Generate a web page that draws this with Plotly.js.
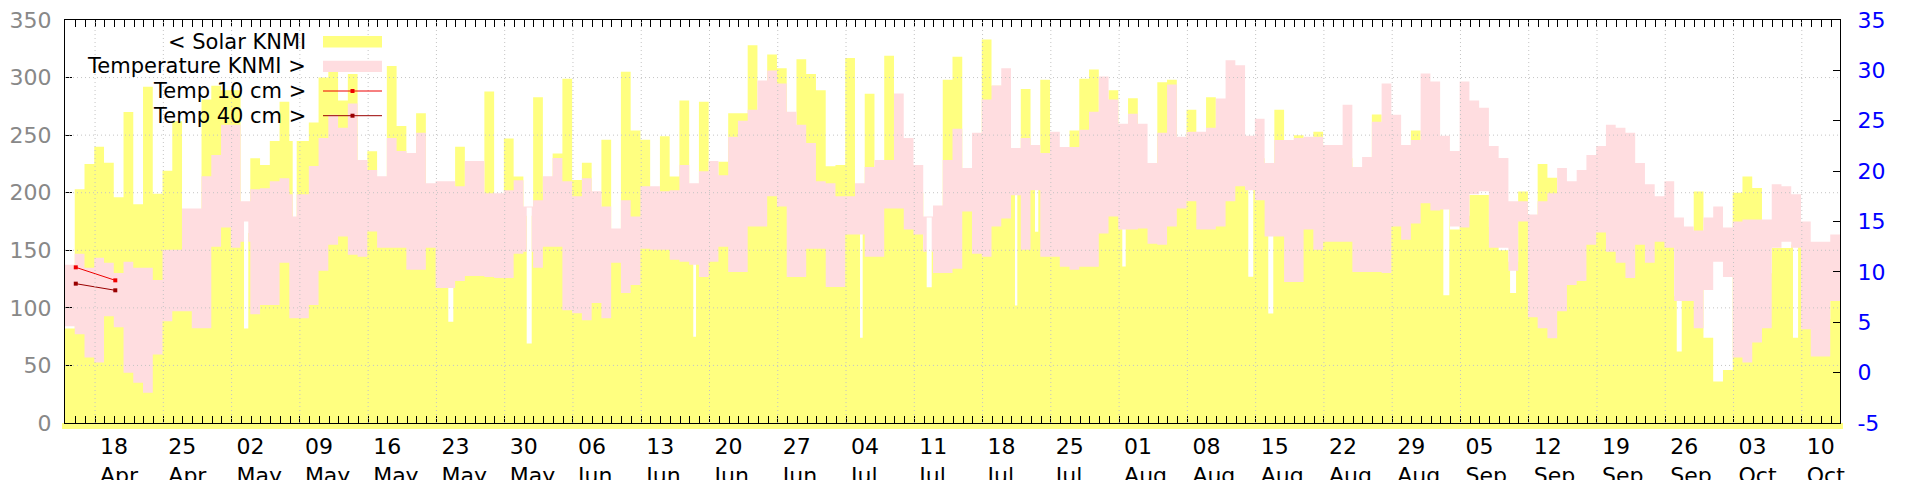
<!DOCTYPE html>
<html><head><meta charset="utf-8">
<script src="https://cdn.plot.ly/plotly-3.0.1.min.js"></script>
<style>html,body{margin:0;padding:0;background:#fff}#chart{width:1920px;height:480px}</style>
</head><body><div id="chart"></div>
<script>
// Daily blocks, each starting 22:00 UTC (local midnight); first block starts 2022-04-14 22:00 UTC
const firstBlock = '2022-04-14T22:00:00Z';
const solar = [
 82,203,225,240,226,196,270,190,292,199,
 219,262,170,165,281,293,289,289,165,230,
 224,245,279,245,245,261,300,306,280,303,
 190,236,170,310,258,180,269,170,160,150,
 240,190,190,288,180,247,214,180,283,200,
 234,299,211,226,170,246,150,305,254,246,
 200,249,214,280,190,279,190,227,269,269,
 328,250,320,308,220,316,303,289,223,224,
 317,200,286,200,319,240,220,200,150,180,
 298,318,220,230,333,293,250,210,290,210,
 298,200,190,254,299,307,220,289,190,282,
 220,200,296,298,230,272,220,283,240,250,
 250,205,230,200,272,200,250,200,253,210,
 210,230,190,200,268,230,220,200,254,240,
 240,200,168,180,198,198,170,150,140,201,
 180,225,213,150,160,160,170,180,180,170,
 160,170,160,158,158,110,110,201,74,36,
 46,200,214,204,130,152,152,155,120,90,
 90,122
];
const tempMax = [
 10.7,11.8,10.4,11.4,10.9,9.9,11.0,10.4,10.4,9.2,
 12.2,12.2,16.3,16.3,19.5,21.6,24.6,24.6,17.0,18.2,
 18.3,19.0,19.3,17.7,17.7,20.5,23.3,25.6,24.3,26.7,
 21.1,20.1,19.5,23.3,22.0,21.8,23.8,18.8,19.0,19.0,
 18.5,21.0,21.0,17.8,17.8,18.1,19.1,16.5,17.1,19.5,
 21.3,19.0,17.5,19.3,18.0,16.5,14.3,17.1,15.5,18.5,
 18.5,18.0,18.1,20.6,18.8,20.0,21.0,19.6,23.4,25.0,
 26.1,29.0,30.0,28.7,25.9,24.6,22.8,19.0,18.8,17.5,
 17.5,18.8,20.4,21.1,21.1,27.7,23.3,20.6,15.5,16.6,
 21.1,24.2,20.3,23.8,27.1,28.5,30.2,22.3,23.3,22.6,
 21.8,23.9,22.4,22.4,24.1,25.9,29.4,27.1,24.7,25.7,
 24.7,20.8,23.8,28.6,23.4,23.9,23.9,24.3,27.2,31.0,
 30.5,23.5,25.2,20.8,23.1,23.1,23.3,23.4,23.4,22.6,
 22.6,26.6,20.4,21.4,24.9,28.7,25.6,22.6,23.1,29.7,
 28.9,23.5,22.0,28.9,27.0,26.3,22.5,21.3,17.0,17.0,
 15.7,17.0,17.8,20.3,19.0,20.1,21.6,22.5,24.6,24.3,
 23.8,20.8,18.7,17.5,19.0,15.4,14.5,14.1,15.4,16.5,
 14.4,15.0,15.2,15.2,15.2,18.7,18.5,17.7,15.0,13.0,
 13.0,13.7
];
const tempMin = [
 4.6,3.8,1.5,1.0,5.6,4.5,0.0,-1.0,-2.0,1.8,
 5.1,6.1,6.1,4.4,4.4,12.5,14.4,12.4,13.0,5.8,
 6.7,6.7,10.9,5.4,5.4,6.7,10.1,12.7,13.5,11.7,
 11.5,14.0,12.4,12.4,12.4,10.2,10.2,12.4,8.4,8.4,
 9.1,9.6,9.6,9.5,9.4,9.4,11.8,12.0,10.4,12.5,
 12.5,6.2,5.9,5.2,6.9,5.4,10.9,7.9,8.7,12.3,
 12.2,12.2,11.2,11.0,10.7,9.5,11.0,12.5,10.0,10.0,
 14.5,14.5,17.5,16.5,9.5,9.5,12.3,12.3,8.5,8.5,
 13.7,13.7,11.5,11.5,16.3,16.3,14.2,13.7,12.0,9.9,
 9.9,10.3,16.0,11.8,11.5,14.5,15.3,17.6,12.2,18.1,
 11.5,11.5,10.5,10.2,10.5,10.5,13.8,15.5,14.2,14.2,
 14.3,12.8,12.7,14.5,16.3,17.0,14.2,14.2,14.5,17.0,
 18.5,18.1,17.1,13.5,13.5,9.0,9.0,14.2,12.2,13.0,
 13.0,13.0,10.0,10.0,10.0,9.9,14.5,13.2,14.8,16.8,
 16.1,16.2,14.5,14.4,17.7,18.0,12.4,12.4,10.1,15.0,
 5.5,4.4,3.4,6.1,8.7,9.1,12.7,13.9,12.0,10.9,
 9.4,12.7,10.9,13.0,12.4,7.1,7.1,4.4,8.2,11.0,
 9.5,1.5,1.0,3.0,4.4,12.4,13.0,12.4,4.3,1.6,
 1.6,7.1
];
// short drop-outs inside a day (UTC times); null = no change for that series
const dipStart = ['2022-05-03 06:30','2022-05-08 06:20','2022-05-24 05:15','2022-06-01 06:10','2022-06-18 08:05',
  '2022-07-05 10:25','2022-07-12 06:30','2022-07-21 07:45','2022-07-23 09:00','2022-08-01 07:50',
  '2022-08-14 05:55','2022-08-16 07:05','2022-09-03 05:55','2022-09-10 02:05','2022-09-27 04:15','2022-10-09 02:20'];
const dipEnd = ['2022-05-03 17:05','2022-05-08 16:10','2022-05-24 17:35','2022-06-01 18:30','2022-06-18 14:50',
  '2022-07-05 17:00','2022-07-12 18:50','2022-07-21 13:30','2022-07-23 17:05','2022-08-01 16:15',
  '2022-08-14 18:10','2022-08-16 19:25','2022-09-03 20:35','2022-09-10 16:50','2022-09-27 16:30','2022-10-09 14:50'];
const dipSolar = [82,150,88,69,75,74,118,102,166,136,127,95,111,113,62,74];
const dipTempMin = [15.0,null,null,16.4,null,null,15.4,null,null,null,null,null,null,null,null,null];
const dipTempMax = [17.0,15.5,null,16.5,null,null,15.5,null,null,null,null,null,null,null,null,null];

const temp10Dates = ['2022-04-16 00:30', '2022-04-20 01:45'];
const temp10 = [10.45, 9.16];
const temp40Dates = ['2022-04-16 00:30', '2022-04-20 01:45'];
const temp40 = [8.83, 8.17];
const legendLabels = ['< Solar KNMI', 'Temperature KNMI >', 'Temp 10 cm >', 'Temp 40 cm >'];
const rightTickVals = [-5, 0, 5, 10, 15, 20, 25, 30, 35];
const rightTickText = ['-5', '0', '5', '10', '15', '20', '25', '30', '35'];
const yellow = '#ffff80', pink = '#ffdde0', red10 = '#ee0000', red40 = '#990000';

const DAY = 86400000;
const t0 = Date.parse(firstBlock);
const toStr = ms => new Date(ms).toISOString().slice(0, 19).replace('T', ' ');
const parseUTC = s => Date.parse(s.replace(' ', 'T') + ':00Z');

// all three series share the same time points: block starts plus drop-out edges
function allTimes() {
  const s = new Set();
  for (let i = 0; i <= solar.length; i++) s.add(t0 + i * DAY);
  dipStart.forEach(d => s.add(parseUTC(d)));
  dipEnd.forEach(d => s.add(parseUTC(d)));
  return Array.from(s).sort((a, b) => a - b);
}
function sample(blocks, dips) {
  const times = allTimes();
  const y = times.map(t => {
    const k = Math.min(blocks.length - 1, Math.floor((t - t0) / DAY));
    let v = blocks[k];
    dips.forEach((dv, j) => {
      if (dv !== null && t >= parseUTC(dipStart[j]) && t < parseUTC(dipEnd[j])) v = dv;
    });
    return v;
  });
  return {x: times.map(toStr), y};
}
const S = sample(solar, dipSolar);
const TN = sample(tempMin, dipTempMin);
const TX = sample(tempMax, dipTempMax);
const xStart = toStr(t0), xEnd = toStr(t0 + solar.length * DAY);

const traces = [
  {x: S.x, y: S.y, type: 'scatter', mode: 'lines', line: {shape: 'hv', width: 0, color: yellow},
   fill: 'tozeroy', fillcolor: yellow, yaxis: 'y', hoverinfo: 'skip', showlegend: false},
  {x: TN.x, y: TN.y, type: 'scatter', mode: 'lines', line: {shape: 'hv', width: 0, color: pink},
   yaxis: 'y2', hoverinfo: 'skip', showlegend: false},
  {x: TX.x, y: TX.y, type: 'scatter', mode: 'lines', line: {shape: 'hv', width: 0, color: pink},
   fill: 'tonexty', fillcolor: pink, yaxis: 'y2', hoverinfo: 'skip', showlegend: false},
  {x: temp10Dates, y: temp10, type: 'scatter', mode: 'lines+markers', yaxis: 'y2', showlegend: false,
   line: {color: red10, width: 1}, marker: {symbol: 'square', size: 4, color: red10}},
  {x: temp40Dates, y: temp40, type: 'scatter', mode: 'lines+markers', yaxis: 'y2', showlegend: false,
   line: {color: red40, width: 1}, marker: {symbol: 'square', size: 4, color: red40}}
];

// grid lines drawn above the fills
const shapes = [];
const gridColor = '#c4c4c4';
for (let t = Date.UTC(2022, 3, 18); t <= Date.UTC(2022, 9, 10); t += 7 * DAY) {
  const d = new Date(t).toISOString().slice(0, 10);
  shapes.push({type: 'line', xref: 'x', yref: 'paper', x0: d, x1: d, y0: 0, y1: 1, layer: 'above',
    line: {color: gridColor, width: 1, dash: '1px,3px'}});
}
for (let v = 50; v <= 300; v += 50) {
  shapes.push({type: 'line', xref: 'paper', yref: 'y', x0: 0, x1: 1, y0: v, y1: v, layer: 'above',
    line: {color: gridColor, width: 1, dash: '1px,3px'}});
}
// yellow fill spilling under the bottom axis
shapes.push({type: 'rect', xref: 'paper', yref: 'paper', x0: -0.0017, x1: 1.0017, y0: -0.015, y1: 0,
  layer: 'below', line: {width: 0}, fillcolor: yellow});

// hand-made legend (text right-aligned, sample to the right)
const W = 1775, H = 403;
const px = x => (x - 65) / W, py = y => (423 - y) / H;
const legY = [41.7, 66.4, 91, 115.7];
const annotations = legendLabels.map((t, i) => ({
  xref: 'paper', yref: 'paper', x: px(308), y: py(legY[i]), xanchor: 'right', yanchor: 'middle',
  text: t, showarrow: false, font: {family: 'DejaVu Sans', size: 21, color: '#000'}
}));
shapes.push({type: 'rect', xref: 'paper', yref: 'paper', x0: px(323), x1: px(382), y0: py(legY[0] + 5.7), y1: py(legY[0] - 5.7),
  line: {width: 0}, fillcolor: yellow, layer: 'above'});
shapes.push({type: 'rect', xref: 'paper', yref: 'paper', x0: px(323), x1: px(382), y0: py(legY[1] + 5.7), y1: py(legY[1] - 5.7),
  line: {width: 0}, fillcolor: pink, layer: 'above'});
[[legY[2], red10], [legY[3], red40]].forEach(([yy, c]) => {
  shapes.push({type: 'line', xref: 'paper', yref: 'paper', x0: px(323), x1: px(382), y0: py(yy), y1: py(yy),
    line: {color: c, width: 1}, layer: 'above'});
  shapes.push({type: 'rect', xref: 'paper', yref: 'paper', x0: px(350.5), x1: px(354.5), y0: py(yy + 2), y1: py(yy - 2),
    line: {width: 0}, fillcolor: c, layer: 'above'});
});

const layout = {
  width: 1920, height: 480,
  margin: {l: 65, r: 80, t: 20, b: 57, pad: 0},
  paper_bgcolor: '#fff', plot_bgcolor: '#fff',
  font: {family: 'DejaVu Sans', size: 22, color: '#000'},
  showlegend: false,
  xaxis: {
    type: 'date', range: [xStart, xEnd], showgrid: false, zeroline: false,
    showline: true, linecolor: '#000', linewidth: 1, mirror: 'allticks',
    ticks: 'inside', ticklen: 7, tickwidth: 1, tickcolor: '#000',
    tick0: '2022-04-18', dtick: 7 * DAY, tickformat: '%d<br>%b',
    tickfont: {family: 'DejaVu Sans', size: 22, color: '#000'},
    ticklabelposition: 'outside right', ticklabelstandoff: 4, ticklabelshift: 4,
    minor: {tick0: '2022-04-18', dtick: DAY, ticks: 'inside', ticklen: 4, tickwidth: 1, tickcolor: '#000', showgrid: false},
    layer: 'above traces'
  },
  yaxis: {
    range: [0, 350], tick0: 0, dtick: 50, showgrid: false, zeroline: false,
    showline: true, linecolor: '#000', linewidth: 1, mirror: false,
    ticks: 'inside', ticklen: 7, tickcolor: '#000',
    tickfont: {family: 'DejaVu Sans', size: 22, color: '#888888'}, ticklabelstandoff: 8,
    layer: 'above traces'
  },
  yaxis2: {
    range: [-5, 35], tickmode: 'array', tickvals: rightTickVals, ticktext: rightTickText,
    overlaying: 'y', side: 'right', showgrid: false, zeroline: false,
    showline: true, linecolor: '#000', linewidth: 1,
    ticks: 'inside', ticklen: 7, tickcolor: '#000',
    tickfont: {family: 'DejaVu Sans', size: 22, color: '#0000ff'}, ticklabelstandoff: 12,
    layer: 'above traces'
  },
  shapes: shapes,
  annotations: annotations
};
Plotly.newPlot('chart', traces, layout, {staticPlot: true, displayModeBar: false});
</script>
</body></html>
